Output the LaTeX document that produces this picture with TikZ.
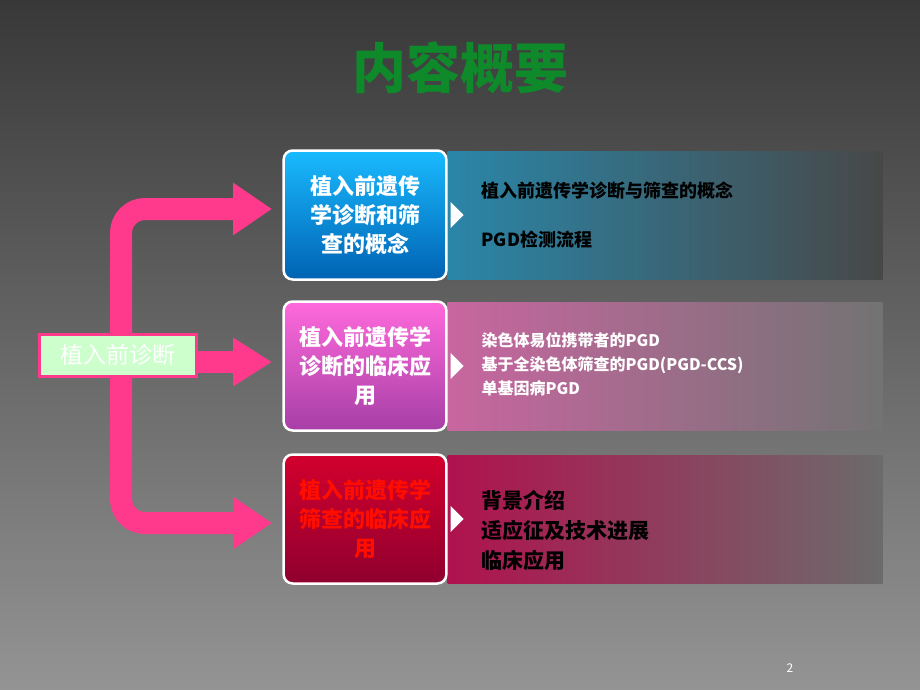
\documentclass[tikz,border=0pt]{standalone}
\usepackage{fontspec}
\setmainfont{Noto Sans CJK SC}
\usetikzlibrary{arrows.meta,positioning}
\definecolor{arrowpink}{HTML}{FF3A8C}
\definecolor{titlegreen}{HTML}{0E8A2A}
\definecolor{tealband}{HTML}{2A86A8}
\definecolor{pinkband}{HTML}{C866A0}
\definecolor{redband}{HTML}{B0124E}
\begin{document}
\begin{tikzpicture}[x=1pt,y=-1pt,
    card/.style={draw=white, line width=2.5pt, rounded corners=9pt, minimum width=162pt, minimum height=129pt, text width=156pt, align=center, font=\bfseries\fontsize{22}{29}\selectfont},
    band/.style={minimum width=435pt, minimum height=128pt, inner sep=0pt},
    item/.style={anchor=west, font=\bfseries\fontsize{18}{24}\selectfont, align=left},
    chev/.style={fill=white, draw=none},
    pinkarrow/.style={arrowpink, line width=22pt, -{Triangle[length=39pt,width=50pt]}}]
  % background
  \shade[top color=black!78, bottom color=black!42] (0,0) rectangle (920,690);
  \useasboundingbox (0,0) rectangle (920,690);
  \node[text=titlegreen, font=\bfseries\fontsize{54}{58}\selectfont] (title) at (460,68) {内容概要};

  % bands
  \node[band, left color=tealband, right color=black!72] (b1) at (665,215) {};
  \node[band, left color=pinkband, right color=black!55] (b2) at (665,366) {};
  \node[band, left color=redband, right color=black!58] (b3) at (665,519) {};

  % cards
  \node[card, top color=cyan!70!blue!90, bottom color=cyan!55!blue!70!black, text=white] (c1) at (365,215) {植入前遗传\\学诊断和筛\\查的概念};
  \node[card, top color=magenta!45!pink, bottom color=magenta!45!gray!90!black, text=white] (c2) at (365,366) {植入前遗传学\\诊断的临床应\\用};
  \node[card, top color=purple!70!red, bottom color=purple!75!black, text=red!90!orange] (c3) at (365,519) {植入前遗传学\\筛查的临床应\\用};

  \foreach \c in {c1,c2,c3}
    \fill[chev] ([xshift=3pt,yshift=-13pt]\c.east) -- ([xshift=16pt]\c.east) -- ([xshift=3pt,yshift=13pt]\c.east) -- cycle;

  % items
  \node[item] (t1) at (478,191) {植入前遗传学诊断与筛查的概念};
  \node[item] (t2) at (478,240) {PGD检测流程};
  \node[item, white, font=\bfseries\fontsize{16}{24}\selectfont] (t3) at (478,364) {染色体易位携带者的PGD\\基于全染色体筛查的PGD(PGD-CCS)\\单基因病PGD};
  \node[item, font=\bfseries\fontsize{21}{30}\selectfont] (t4) at (478,530) {背景介绍\\适应征及技术进展\\临床应用};

  % bracket arrows
  \coordinate (e1) at (272,209);
  \coordinate (e2) at (272,362);
  \coordinate (e3) at (272,523);
  \draw[pinkarrow, rounded corners=24pt] (121,355) -- (121,209) -- (e1);
  \draw[pinkarrow, rounded corners=24pt] (121,355) -- (121,523) -- (e3);
  \draw[pinkarrow, -{Triangle[length=39pt,width=46pt]}] (190,362) -- (e2);

  % root
  \node[draw=arrowpink, line width=3pt, fill=green!20, minimum width=157pt, minimum height=42pt, text=white, font=\fontsize{23}{26}\selectfont] (root) at (118,355) {植入前诊断};

  \node[text=white, font=\fontsize{12}{13}\selectfont] (pg) at (790,668) {2};
\end{tikzpicture}
\end{document}
